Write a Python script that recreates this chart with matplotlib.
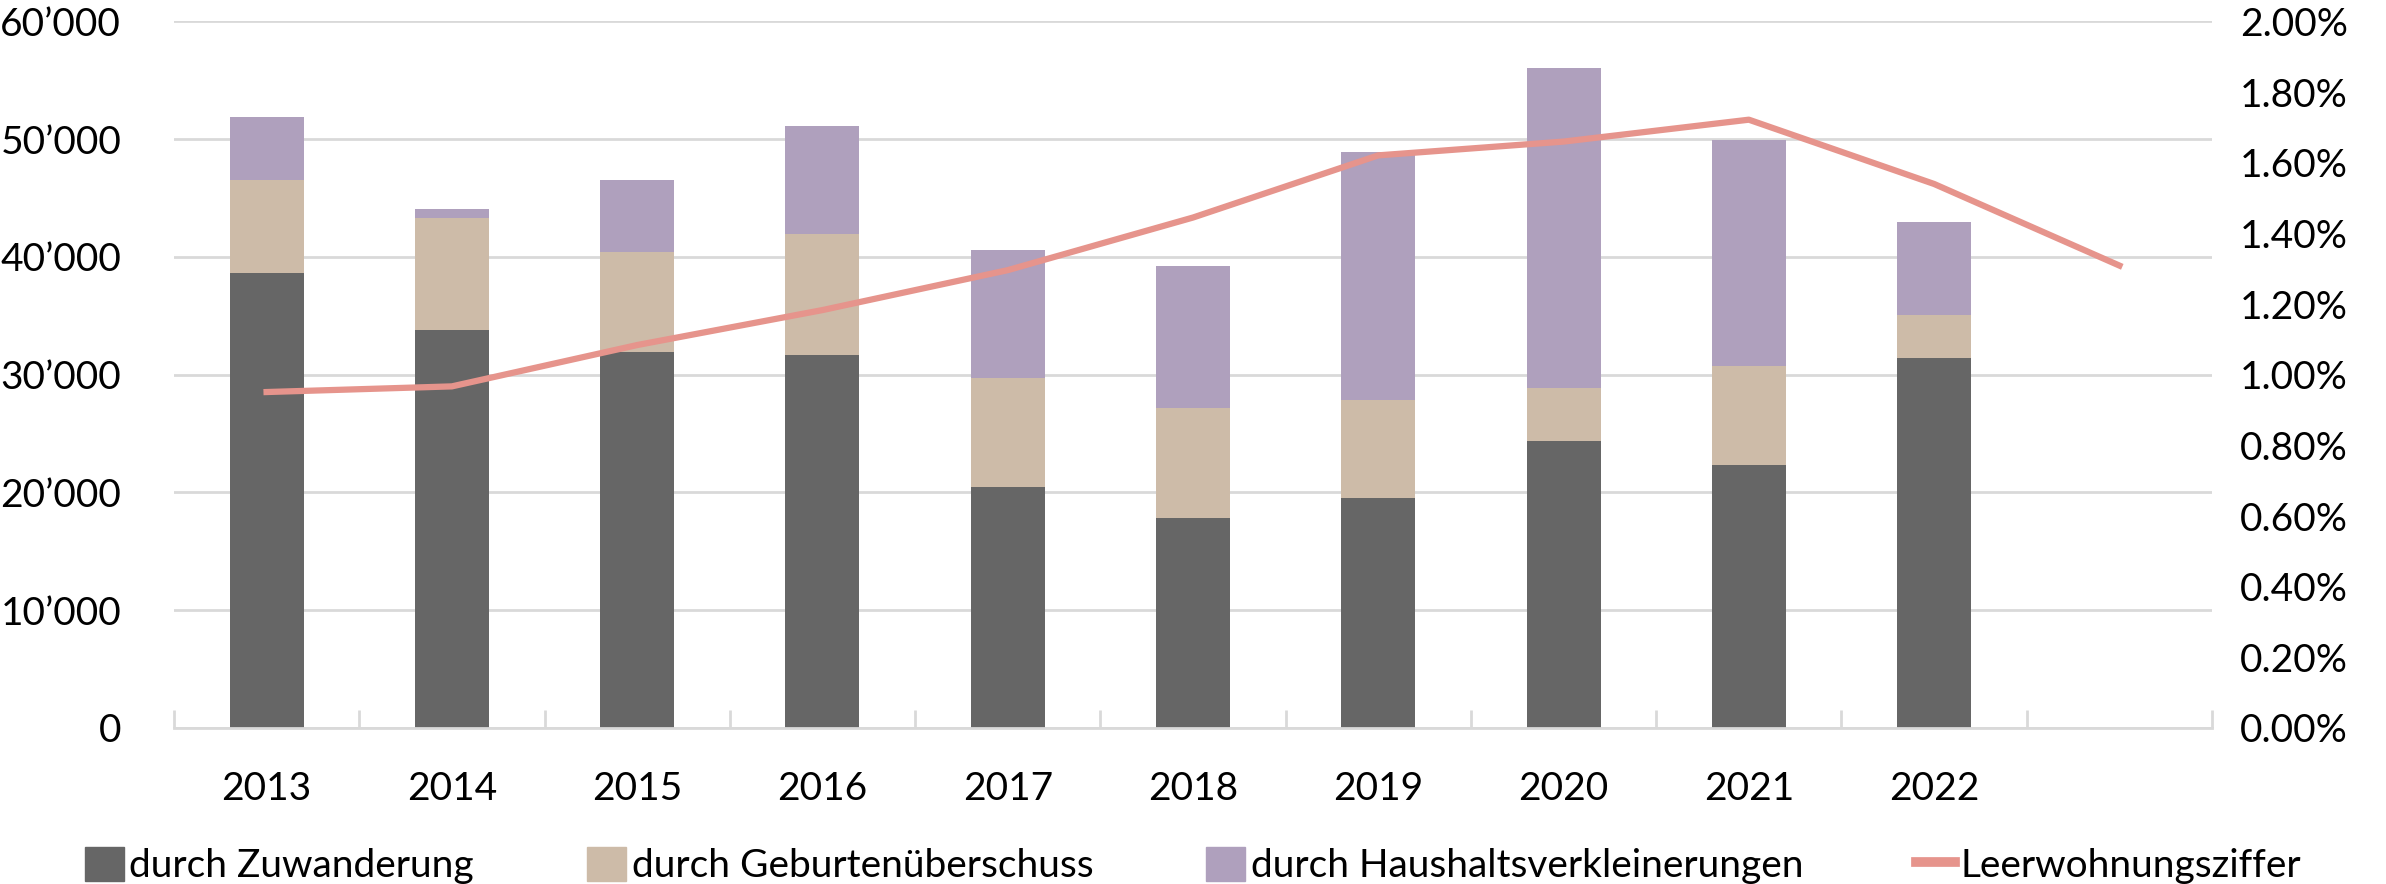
import matplotlib.pyplot as plt
import numpy as np
from matplotlib.ticker import FuncFormatter, MultipleLocator
from matplotlib.lines import Line2D
from matplotlib.patches import Patch

plt.rcParams['font.family'] = ['Lato', 'DejaVu Sans']

years = ['2013', '2014', '2015', '2016', '2017', '2018', '2019', '2020', '2021', '2022', '']
zuwanderung = [38600, 33800, 31900, 31700, 20500, 17800, 19500, 24400, 22300, 31400]
geburten = [7950, 9500, 8500, 10250, 9200, 9350, 8350, 4500, 8400, 3700]
haushalt = [5300, 800, 6100, 9150, 10900, 12050, 21050, 27150, 19200, 7900]
leerwohnung = [0.951, 0.967, 1.084, 1.183, 1.296, 1.445, 1.621, 1.660, 1.722, 1.540, 1.309]

col_dark = '#666666'
col_beige = '#cdbba8'
col_purple = '#afa0bd'
col_line = '#e6948c'

fig = plt.figure(figsize=(23.86, 8.84), dpi=100)
ax = fig.add_axes([0.0729, 0.1765, 0.8542, 0.7992])

n = len(zuwanderung)
x = np.arange(n)
w = 0.4
zu = np.array(zuwanderung)
ge = np.array(geburten)
ha = np.array(haushalt)
ax.bar(x, zu, w, color=col_dark, zorder=2)
ax.bar(x, ge, w, bottom=zu, color=col_beige, zorder=2)
ax.bar(x, ha, w, bottom=zu + ge, color=col_purple, zorder=2)

ax.set_xlim(-0.5, len(years) - 0.5)
ax.set_ylim(0, 60000)
ax.yaxis.set_major_locator(MultipleLocator(10000))
ax.yaxis.set_major_formatter(FuncFormatter(lambda v, p: '0' if v == 0 else '{:,.0f}'.format(v).replace(',', '\u2019')))
ax.grid(axis='y', color='#d9d9d9', lw=2, zorder=0)
ax.set_xticks(np.arange(len(years)))
ax.set_xticklabels(years)
ax.set_xticks(np.arange(len(years) + 1) - 0.5, minor=True)
ax.tick_params(axis='x', which='major', length=0, pad=31, labelsize=28)
ax.tick_params(axis='x', which='minor', direction='in', length=13, width=2, color='#d9d9d9')
ax.tick_params(axis='y', length=0, pad=38, labelsize=28)
for s in ['top', 'left', 'right']:
    ax.spines[s].set_visible(False)
ax.spines['bottom'].set_color('#d9d9d9')
ax.spines['bottom'].set_linewidth(2)

ax2 = ax.twinx()
ax2.plot(np.arange(len(leerwohnung)), leerwohnung, color=col_line, lw=4.5, zorder=3)
ax2.set_ylim(0, 2.0)
ax2.yaxis.set_major_locator(MultipleLocator(0.2))
ax2.yaxis.set_major_formatter(FuncFormatter(lambda v, p: '{:.2f}%'.format(v)))
ax2.tick_params(axis='y', length=0, pad=20, labelsize=28)
for s in ['top', 'left', 'right', 'bottom']:
    ax2.spines[s].set_visible(False)

handles = [Patch(color=col_dark), Patch(color=col_beige), Patch(color=col_purple),
           Line2D([], [], color=col_line, lw=7)]
labels = ['durch Zuwanderung', 'durch Geburtenüberschuss', 'durch Haushaltsverkleinerungen', 'Leerwohnungsziffer']
fig.legend(handles, labels, loc='lower center', bbox_to_anchor=(0.5, -0.04), ncol=4, frameon=False,
           fontsize=28, handlelength=1.0, handleheight=1.0, handletextpad=0.15, columnspacing=2.9)

fig.savefig('out.png', dpi=100)
